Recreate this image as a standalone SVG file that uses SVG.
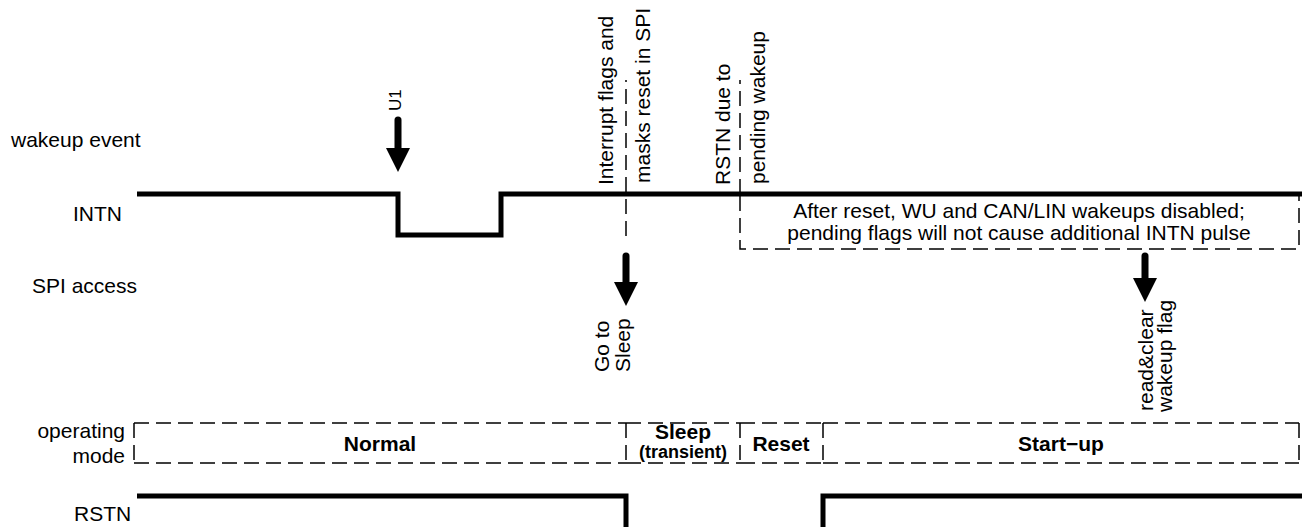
<svg xmlns="http://www.w3.org/2000/svg" width="1302" height="527" viewBox="0 0 1302 527">
<style>
text{font-family:"Liberation Sans",Arial,Helvetica,sans-serif;fill:#000}
.lbl{font-size:21px}
.b{font-size:21px;font-weight:bold;text-anchor:middle}
.sig{fill:none;stroke:#000;stroke-width:5;stroke-linejoin:miter}
.dash{fill:none;stroke:#000;stroke-width:1.5;stroke-dasharray:15 7}
.arr{stroke:#000;stroke-width:7;stroke-linecap:round;fill:none;marker-end:url(#head)}
</style>
<defs>
<marker id="head" markerUnits="userSpaceOnUse" viewBox="0 0 24 24" markerWidth="24" markerHeight="24" refX="1" refY="12" orient="auto">
<path d="M0,0 L24,12 L0,24 z" fill="#000"/>
</marker>
</defs>
<rect width="1302" height="527" fill="#fff"/>

<g id="row-labels">
<text class="lbl" x="11" y="147">wakeup event</text>
<text class="lbl" x="73" y="221">INTN</text>
<text class="lbl" x="32" y="293">SPI access</text>
<text class="lbl" x="125" y="438" text-anchor="end">operating</text>
<text class="lbl" x="125" y="463" text-anchor="end">mode</text>
<text class="lbl" x="74" y="521">RSTN</text>
</g>

<g id="intn-signal">
<path class="sig" d="M137,194 H398 V235 H501 V194 H1302"/>
</g>

<g id="rstn-signal">
<path class="sig" d="M137,496 H626 V527"/>
<path class="sig" d="M823,527 V496 H1302"/>
</g>

<g id="event-u1">
<line class="arr" x1="398" y1="120" x2="398" y2="149"/>
<text class="lbl" style="font-size:17px" transform="translate(401,111) rotate(-90)">U1</text>
</g>

<g id="note-interrupt-reset">
<text class="lbl" transform="translate(613,185) rotate(-90)">Interrupt flags and</text>
<text class="lbl" transform="translate(650,183) rotate(-90)">masks reset in SPI</text>
</g>

<g id="note-rstn-pending">
<text class="lbl" transform="translate(730,185) rotate(-90)">RSTN due to</text>
<text class="lbl" transform="translate(765,184) rotate(-90)">pending wakeup</text>
</g>

<g id="spi-go-to-sleep">
<line class="arr" x1="626" y1="256" x2="626" y2="283"/>
<text class="lbl" transform="translate(609,372) rotate(-90)">Go to</text>
<text class="lbl" transform="translate(630,372) rotate(-90)">Sleep</text>
</g>

<g id="spi-read-clear">
<line class="arr" x1="1145" y1="256" x2="1145" y2="279"/>
<text class="lbl" transform="translate(1153,411) rotate(-90)">read&amp;clear</text>
<text class="lbl" transform="translate(1172,412) rotate(-90)">wakeup flag</text>
</g>

<g id="connectors">
<line class="dash" x1="626" y1="236" x2="626" y2="80"/>
<line class="dash" x1="740" y1="194" x2="740" y2="80"/>
</g>

<g id="note-after-reset">
<path class="dash" d="M740,196 V249 H1299 V196"/>
<text class="lbl" x="1019" y="218" text-anchor="middle">After reset, WU and CAN/LIN wakeups disabled;</text>
<text class="lbl" x="1019" y="240" text-anchor="middle">pending flags will not cause additional INTN pulse</text>
</g>

<g id="mode-normal">
<path class="dash" d="M134,423 H626 M134,463 H626 M134,423 V463"/>
<text class="b" x="380" y="451">Normal</text>
</g>
<g id="mode-sleep">
<path class="dash" d="M626,423 H740 M626,463 H740 M626,423 V463"/>
<text class="b" x="683" y="439">Sleep</text>
<text class="b" style="font-size:18px" x="683" y="458">(transient)</text>
</g>
<g id="mode-reset">
<path class="dash" d="M740,423 H823 M740,463 H823 M740,423 V463"/>
<text class="b" x="781" y="451">Reset</text>
</g>
<g id="mode-startup">
<path class="dash" d="M823,423 H1299 M823,463 H1299 M823,423 V463 M1299,423 V463"/>
<text class="b" x="1061" y="451">Start−up</text>
</g>
</svg>
